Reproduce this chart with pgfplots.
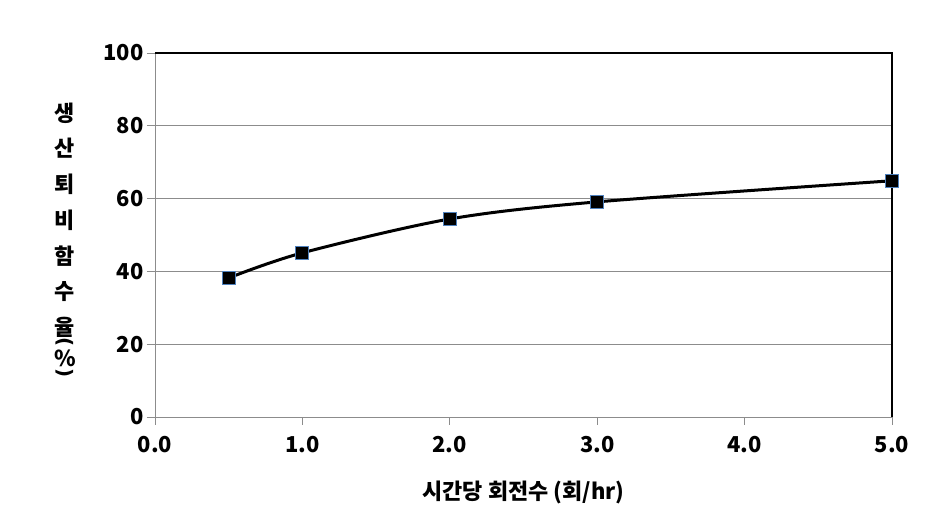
\documentclass[border=0pt]{standalone}
\usepackage{fontspec}
\setmainfont{Noto Sans CJK KR}
\newfontfamily\dejavu{DejaVu Sans}
\usepackage{pgfplots}
\pgfplotsset{compat=1.18}
\definecolor{gridgray}{RGB}{140,140,140}
\definecolor{mkedge}{RGB}{79,129,189}
\begin{document}
\begin{tikzpicture}
\begin{axis}[
  scale only axis, width=737bp, height=364bp,
  xmin=0, xmax=5, ymin=0, ymax=100,
  xtick={0,1,2,3,4,5}, ytick={0,20,40,60,80,100},
  xticklabel style={yshift=-8bp, /pgf/number format/.cd, fixed, fixed zerofill, precision=1},
  /pgf/number format/assume math mode=true,
  ticklabel style={font=\fontsize{22}{26}\selectfont\bfseries},
  axis line style={gridgray, line width=0.9bp},
  tick align=outside, major tick length=8bp,
  tick style={gridgray, line width=0.9bp},
  xtick pos=bottom, ytick pos=left,
  ymajorgrids, grid style={gridgray, line width=0.9bp},
  clip=false,
]
\addplot[black, line width=3bp, smooth, tension=0.5,
  mark=square*, mark size=6.5bp,
  mark options={fill=black, draw=mkedge, line width=0.8bp}]
  coordinates {(0.5,38.2) (1,45.1) (2,54.4) (3,59.1) (5,64.9)};
\draw[black, line width=1.2bp] (rel axis cs:0,1) -- (rel axis cs:1,1) -- (rel axis cs:1,0);
\node[font=\fontsize{22}{26}\selectfont\bfseries] at (rel axis cs:0.5,0) [yshift=-75bp] {시간당 회전수 (회/hr)};
\begin{scope}[every node/.style={font=\fontsize{22}{26}\selectfont\bfseries, inner sep=0pt}]
\node at (rel axis cs:0,0) [xshift=-90bp, yshift=304bp] {생};
\node at (rel axis cs:0,0) [xshift=-90bp, yshift=269bp] {산};
\node at (rel axis cs:0,0) [xshift=-90bp, yshift=233bp] {퇴};
\node at (rel axis cs:0,0) [xshift=-90bp, yshift=197bp] {비};
\node at (rel axis cs:0,0) [xshift=-90bp, yshift=161bp] {함};
\node at (rel axis cs:0,0) [xshift=-90bp, yshift=125bp] {수};
\node at (rel axis cs:0,0) [xshift=-90bp, yshift=90bp] {율};
\node[rotate=-90, font=\fontsize{20}{24}\dejavu\bfseries] at ([xshift=-90bp, yshift=75bp]rel axis cs:0,0) {(};
\node at (rel axis cs:0,0) [xshift=-90bp, yshift=59bp] {\%};
\node[rotate=-90, font=\fontsize{20}{24}\dejavu\bfseries] at ([xshift=-90bp, yshift=44bp]rel axis cs:0,0) {)};
\end{scope}
\path (rel axis cs:0,0) ++(-155bp,-112bp);
\path (rel axis cs:1,1) ++(57bp,53bp);
\end{axis}
\end{tikzpicture}
\end{document}
